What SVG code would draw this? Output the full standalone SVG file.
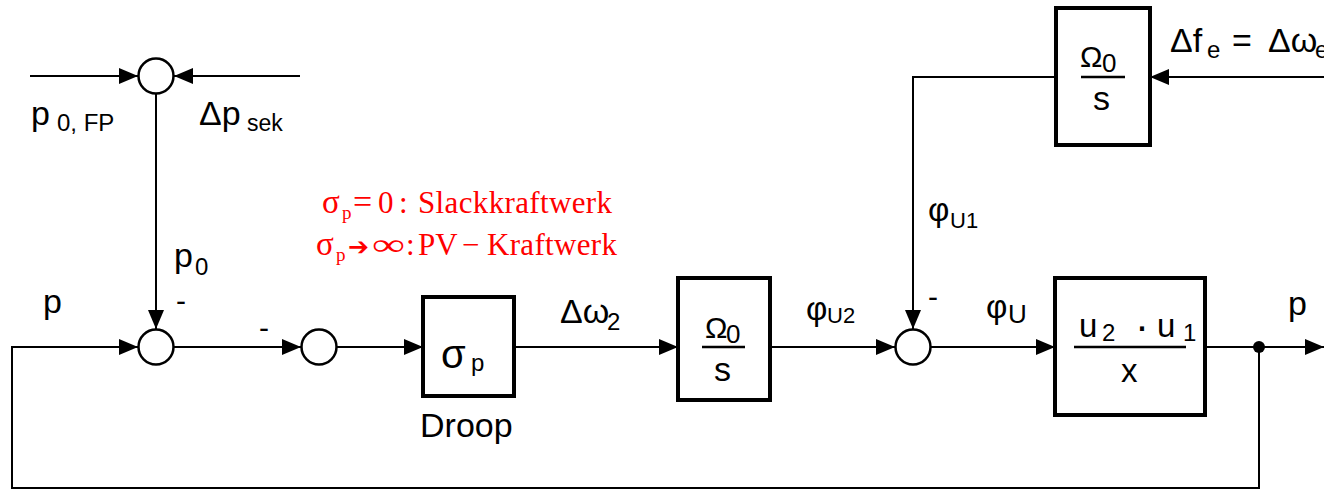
<svg xmlns="http://www.w3.org/2000/svg" width="1324" height="490" viewBox="0 0 1324 490">
<style>
.t{font-family:"Liberation Sans",Arial,sans-serif;fill:#000}
.r{font-family:"Liberation Serif","Times New Roman",serif;fill:#ff0000}
.ln{fill:none;stroke:#000;stroke-width:2}
.box{fill:#fff;stroke:#000;stroke-width:4}
.sum{fill:#fff;stroke:#000;stroke-width:2.5}
</style>
<defs>
<marker id="ah" markerUnits="userSpaceOnUse" markerWidth="20" markerHeight="16" refX="19" refY="8" orient="auto">
<path d="M0,0 L19,8 L0,16 z" fill="#000"/>
</marker>
</defs>
<g id="connectors">
<line class="ln" x1="30" y1="76" x2="138" y2="76" marker-end="url(#ah)"/>
<line class="ln" x1="300" y1="76" x2="174" y2="76" marker-end="url(#ah)"/>
<line class="ln" x1="156" y1="94" x2="156" y2="329" marker-end="url(#ah)"/>
<path class="ln" d="M1259,347 L1259,488 L12,488 L12,347 L138,347" marker-end="url(#ah)"/>
<line class="ln" x1="174" y1="347" x2="301" y2="347" marker-end="url(#ah)"/>
<line class="ln" x1="337" y1="347" x2="423" y2="347" marker-end="url(#ah)"/>
<line class="ln" x1="514" y1="347" x2="678" y2="347" marker-end="url(#ah)"/>
<line class="ln" x1="770" y1="347" x2="895" y2="347" marker-end="url(#ah)"/>
<line class="ln" x1="931" y1="347" x2="1055" y2="347" marker-end="url(#ah)"/>
<line class="ln" x1="1204" y1="347" x2="1324" y2="347" marker-end="url(#ah)"/>
<line class="ln" x1="1324" y1="77" x2="1150" y2="77" marker-end="url(#ah)"/>
<path class="ln" d="M1056,77 L913,77 L913,329" marker-end="url(#ah)"/>
<circle cx="1259" cy="347" r="6" fill="#000"/>
</g>
<g id="sum_top"><circle class="sum" cx="156" cy="76" r="17.5"/></g>
<g id="sum_main"><circle class="sum" cx="156" cy="347" r="17.5"/></g>
<g id="sum_2"><circle class="sum" cx="319" cy="347" r="17.5"/></g>
<g id="sum_3"><circle class="sum" cx="913" cy="347" r="17.5"/></g>
<g id="droop">
<rect class="box" x="423" y="297" width="91" height="99"/>
<text class="t" x="441" y="368" font-size="40">σ</text>
<text class="t" x="471" y="371" font-size="24">p</text>
<text class="t" x="420" y="437" font-size="34">Droop</text>
</g>
<g id="integrator1">
<rect class="box" x="678" y="278" width="92" height="122"/>
<text class="t" x="705" y="338" font-size="30">Ω</text>
<text class="t" x="726" y="343" font-size="26">0</text>
<line x1="702" y1="347" x2="745" y2="347" stroke="#000" stroke-width="2.5"/>
<text class="t" x="714" y="381" font-size="34">s</text>
</g>
<g id="integrator2">
<rect class="box" x="1056" y="8" width="94" height="137"/>
<text class="t" x="1080" y="67" font-size="30">Ω</text>
<text class="t" x="1102" y="72" font-size="26">0</text>
<line x1="1081" y1="77" x2="1125" y2="77" stroke="#000" stroke-width="2.5"/>
<text class="t" x="1093" y="110" font-size="34">s</text>
</g>
<g id="plant">
<rect class="box" x="1055" y="278" width="150" height="137"/>
<text class="t" x="1079" y="337" font-size="33">u</text>
<text class="t" x="1102" y="341" font-size="24">2</text>
<text class="t" x="1135" y="340" font-size="42">·</text>
<text class="t" x="1157" y="337" font-size="33">u</text>
<text class="t" x="1183" y="341" font-size="24">1</text>
<line x1="1074" y1="347" x2="1186" y2="347" stroke="#000" stroke-width="2.5"/>
<text class="t" x="1121" y="382" font-size="33">x</text>
</g>
<g id="labels">
<text class="t" x="31" y="125" font-size="34">p</text>
<text class="t" x="57" y="131" font-size="24">0, FP</text>
<text class="t" x="199" y="125" font-size="34">Δp</text>
<text class="t" x="247" y="131" font-size="23">sek</text>
<text class="t" x="174" y="267" font-size="34">p</text>
<text class="t" x="195" y="275" font-size="24">0</text>
<text class="t" x="176" y="311" font-size="30">-</text>
<text class="t" x="43" y="313" font-size="34">p</text>
<text class="t" x="259" y="338" font-size="30">-</text>
<text class="t" x="560" y="323" font-size="34">Δω</text>
<text class="t" x="607" y="330" font-size="24">2</text>
<text class="t" x="806" y="320" font-size="33">φ</text>
<text class="t" x="827" y="323" font-size="22">U2</text>
<text class="t" x="928" y="221" font-size="33">φ</text>
<text class="t" x="950" y="228" font-size="22">U1</text>
<text class="t" x="928" y="307" font-size="30">-</text>
<text class="t" x="986" y="318" font-size="33">φ</text>
<text class="t" x="1008" y="323" font-size="26">U</text>
<text class="t" x="1288" y="315" font-size="34">p</text>
<text class="t" x="1170" y="52" font-size="34">Δf</text>
<text class="t" x="1207" y="58" font-size="24">e</text>
<text class="t" x="1232" y="52" font-size="34">=</text>
<text class="t" x="1268" y="52" font-size="34">Δω</text>
<text class="t" x="1315" y="58" font-size="24">e</text>
</g>
<g id="note">
<text class="r" x="322" y="213" font-size="33">σ</text>
<text class="r" x="342" y="219" font-size="19">p</text>
<text class="r" x="353" y="213" font-size="34">=</text>
<text class="r" x="378" y="213" font-size="31">0</text>
<text class="r" x="399" y="213" font-size="31">:</text>
<text class="r" x="418" y="213" font-size="31" textLength="194" lengthAdjust="spacing">Slackkraftwerk</text>
<text class="r" x="316" y="255" font-size="33">σ</text>
<text class="r" x="336" y="261" font-size="19">p</text>
<text x="348" y="255" font-size="25" font-family="DejaVu Sans,sans-serif" fill="#ff0000">➔</text>
<text class="r" x="372" y="255" font-size="31" textLength="33" lengthAdjust="spacingAndGlyphs">∞</text>
<text class="r" x="406" y="255" font-size="31">:</text>
<text class="r" x="418" y="255" font-size="31">PV</text>
<text class="r" x="462" y="255" font-size="31">−</text>
<text class="r" x="487" y="255" font-size="31" textLength="130" lengthAdjust="spacing">Kraftwerk</text>
</g>
</svg>
